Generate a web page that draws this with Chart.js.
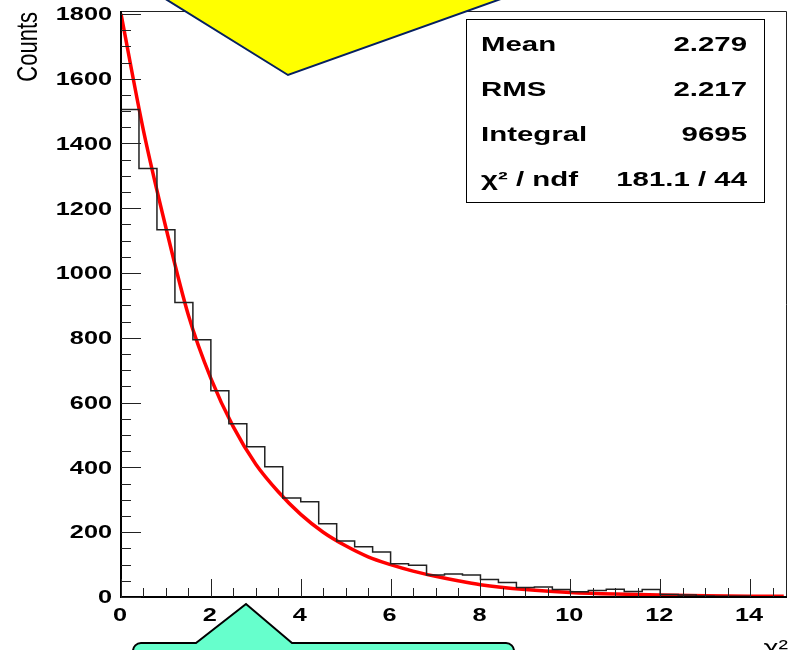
<!DOCTYPE html>
<html>
<head>
<meta charset="utf-8">
<script src="https://cdn.jsdelivr.net/npm/chart.js@4/dist/chart.umd.min.js"></script>
<style>
  html, body { margin: 0; padding: 0; background: #fff; }
  canvas { display: block; }
</style>
</head>
<body>
<canvas id="histo" width="792" height="650"></canvas>
<script>
// histogram bins (low edge, width 0.4) and contents
var binLow = [0, 0.4, 0.8, 1.2, 1.6, 2.0, 2.4, 2.8, 3.2, 3.6, 4.0, 4.4, 4.8, 5.2, 5.6, 6.0, 6.4, 6.8, 7.2,
  7.6, 8.0, 8.4, 8.8, 9.2, 9.6, 10.0, 10.4, 10.8, 11.2, 11.6, 12.0, 12.4, 12.8, 13.2, 13.6, 14.0, 14.4];
var binCounts = [1505, 1323, 1134, 909, 794, 637, 535, 464, 402, 306, 294, 226, 173, 155, 139, 103, 98, 68, 71,
  68, 54, 45, 29, 31, 23, 16, 20, 24, 17, 23, 8, 6, 3, 2, 2, 1, 1];
var binHigh = 14.8;

// fitted curve
var fitX = [0, 0.5, 1, 1.5, 2, 2.5, 3, 3.5, 4, 4.5, 5, 5.5, 6, 6.5, 7, 7.5, 8, 9, 10, 11, 12, 13, 14, 14.75];
var fitY = [1800, 1440, 1140, 870, 675, 525, 410, 325, 255, 200, 158, 124, 100, 80, 64, 50, 38, 23, 14, 9, 6, 4, 2.5, 2];

// axis ticks
var xTickLabels = ['0', '2', '4', '6', '8', '10', '12', '14'];
var yTickLabels = ['0', '200', '400', '600', '800', '1000', '1200', '1400', '1600', '1800'];

// stats box
var statNames = ['Mean', 'RMS', 'Integral', '\u03c7\u00b2 / ndf'];
var statValues = ['2.279', '2.217', '9695', '181.1 / 44'];

var histPoints = binLow.map(function(x, i) { return {x: x, y: binCounts[i]}; });
histPoints.push({x: binHigh, y: binCounts[binCounts.length - 1]});
var fitPoints = fitX.map(function(x, i) { return {x: x, y: fitY[i]}; });

var FONT = '"Liberation Sans", Arial, sans-serif';

// draw text stretched horizontally, the picture is wider than normal type
function wideText(ctx, s, px, py, align, sx) {
  ctx.save();
  ctx.translate(px, py);
  ctx.scale(sx, 1);
  ctx.textAlign = align;
  ctx.fillText(s, 0, 0);
  ctx.restore();
}

var decorations = {
  id: 'decorations',
  afterDatasetsDraw: function(chart) {
    var ctx = chart.ctx;
    var a = chart.chartArea;
    var xs = chart.scales.x, ys = chart.scales.y;
    ctx.save();

    // frame top / right
    ctx.strokeStyle = '#222';
    ctx.lineWidth = 1;
    ctx.beginPath();
    ctx.moveTo(a.left, a.top + 0.5);
    ctx.lineTo(a.right + 0.5, a.top + 0.5);
    ctx.lineTo(a.right + 0.5, a.bottom);
    ctx.stroke();

    // axes
    ctx.strokeStyle = '#000';
    ctx.lineWidth = 2;
    ctx.beginPath();
    ctx.moveTo(a.left, a.top);
    ctx.lineTo(a.left, a.bottom);
    ctx.lineTo(a.right + 1, a.bottom);
    ctx.stroke();

    // ticks
    ctx.lineWidth = 1;
    ctx.strokeStyle = '#222';
    ctx.beginPath();
    for (var v = 0; v <= 14.5; v += 0.5) {
      var px = Math.round(xs.getPixelForValue(v)) + 0.5;
      var len = (v % 2 === 0) ? 18 : 9;
      ctx.moveTo(px, a.bottom);
      ctx.lineTo(px, a.bottom - len);
    }
    for (var w = 0; w <= 1800; w += 50) {
      var py = Math.round(ys.getPixelForValue(w)) + 0.5;
      var l2 = (w % 200 === 0) ? 20 : 10;
      ctx.moveTo(a.left, py);
      ctx.lineTo(a.left + l2, py);
    }
    ctx.stroke();

    // tick labels
    ctx.fillStyle = '#000';
    ctx.font = 'bold 19px ' + FONT;
    ctx.textBaseline = 'middle';
    xTickLabels.forEach(function(t) {
      wideText(ctx, t, xs.getPixelForValue(Number(t)) - 1, 616, 'center', 1.33);
    });
    yTickLabels.forEach(function(t) {
      wideText(ctx, t, 112, ys.getPixelForValue(Number(t)) + 1, 'right', 1.33);
    });

    // axis titles
    ctx.textBaseline = 'alphabetic';
    ctx.font = '22px ' + FONT;
    ctx.save();
    ctx.translate(37, 12);
    ctx.scale(1.3, 1);
    ctx.rotate(-Math.PI / 2);
    ctx.textAlign = 'right';
    ctx.fillText('Counts', 0, 0);
    ctx.restore();
    wideText(ctx, '\u03c7\u00b2', 788, 655, 'right', 1.3);

    // stats box
    ctx.fillStyle = '#fff';
    ctx.fillRect(466, 19, 298, 183);
    ctx.strokeStyle = '#000';
    ctx.lineWidth = 1;
    ctx.strokeRect(466.5, 19.5, 298, 183);
    ctx.fillStyle = '#000';
    ctx.font = 'bold 21px ' + FONT;
    statNames.forEach(function(n, i) {
      var base = 51 + i * 45;
      wideText(ctx, n, 481, base, 'left', 1.4);
      wideText(ctx, statValues[i], 747, base, 'right', 1.4);
    });

    // yellow callout pointer from above
    ctx.fillStyle = '#ffff00';
    ctx.strokeStyle = '#062060';
    ctx.lineWidth = 2;
    ctx.beginPath();
    ctx.moveTo(151, -10);
    ctx.lineTo(288, 75);
    ctx.lineTo(526, -10);
    ctx.closePath();
    ctx.fill();
    ctx.stroke();

    // green callout below
    ctx.fillStyle = '#66ffcc';
    ctx.strokeStyle = '#000';
    ctx.beginPath();
    ctx.moveTo(133, 670);
    ctx.lineTo(133, 651);
    ctx.arcTo(133, 643, 141, 643, 8);
    ctx.lineTo(196, 643);
    ctx.lineTo(246, 604);
    ctx.lineTo(292, 643);
    ctx.lineTo(506, 643);
    ctx.arcTo(514, 643, 514, 651, 8);
    ctx.lineTo(514, 670);
    ctx.closePath();
    ctx.fill();
    ctx.stroke();

    ctx.restore();
  }
};

var histChart = new Chart(document.getElementById('histo'), {
  type: 'line',
  data: {
    datasets: [{
      label: 'histogram',
      data: histPoints,
      stepped: true,
      borderColor: '#222',
      borderWidth: 1.5,
      pointRadius: 0,
      fill: false
    }, {
      label: 'fit',
      data: fitPoints,
      borderColor: '#ff0000',
      borderWidth: 3.5,
      pointRadius: 0,
      cubicInterpolationMode: 'monotone',
      fill: false
    }]
  },
  options: {
    responsive: false,
    animation: false,
    layout: { padding: { left: 121, right: 6, top: 11, bottom: 53 } },
    plugins: { legend: { display: false }, tooltip: { enabled: false } },
    scales: {
      x: { type: 'linear', min: 0, max: 14.8, display: false },
      y: { type: 'linear', min: 0, max: 1809, display: false }
    }
  },
  plugins: [decorations]
});
</script>
</body>
</html>
